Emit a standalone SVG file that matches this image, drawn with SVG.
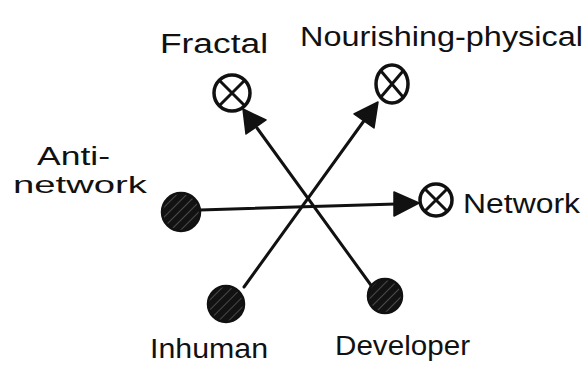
<svg xmlns="http://www.w3.org/2000/svg" width="584" height="366" viewBox="0 0 584 366">
<style>
.lbl{font-family:"Liberation Sans","DejaVu Sans",sans-serif;font-size:27px;fill:#111;}
.open{fill:#fff;stroke:#111;stroke-width:3.5;}
.cross{stroke:#111;stroke-width:3;fill:none;}
.solid{fill:url(#hatch);stroke:#111;stroke-width:2.5;}
.edge{stroke:#111;stroke-width:3;fill:none;stroke-linecap:round;}
.head{fill:#111;stroke:#111;stroke-width:1.5;stroke-linejoin:round;}
</style>
<defs>
<pattern id="hatch" patternUnits="userSpaceOnUse" width="7" height="7" patternTransform="rotate(-45)">
<rect width="7" height="7" fill="#121212"/>
<line x1="0" y1="3.5" x2="7" y2="3.5" stroke="#4a4a4a" stroke-width="1"/>
</pattern>
</defs>
<rect width="584" height="366" fill="#fff"/>
<g id="connectors">
<line class="edge" x1="200" y1="210" x2="396" y2="204"/>
<path class="head" d="M394,192 L419,203 L394,216 Z"/>
<line class="edge" x1="244" y1="287" x2="366" y2="118"/>
<path class="head" d="M378,102 L374,128 L354,114 Z"/>
<line class="edge" x1="373" y1="288" x2="257" y2="128"/>
<path class="head" d="M243,109 L266,120 L246,134 Z"/>
</g>
<g id="fractal">
<circle class="open" cx="232" cy="93" r="18"/>
<path class="cross" d="M220,81 L244,105 M244,81 L220,105"/>
<text class="lbl" x="160" y="53" textLength="108" lengthAdjust="spacingAndGlyphs">Fractal</text>
</g>
<g id="nourishing">
<ellipse class="open" cx="392" cy="84" rx="16" ry="19"/>
<path class="cross" d="M381,71 L403,97 M403,71 L381,97"/>
<text class="lbl" x="300" y="46" textLength="283" lengthAdjust="spacingAndGlyphs">Nourishing-physical</text>
</g>
<g id="network">
<circle class="open" cx="436" cy="200" r="16"/>
<path class="cross" d="M425,189 L447,211 M447,189 L425,211"/>
<text class="lbl" x="463" y="213" textLength="117" lengthAdjust="spacingAndGlyphs">Network</text>
</g>
<g id="antinetwork">
<circle class="solid" cx="181" cy="212" r="19"/>
<text class="lbl" x="37" y="165" style="font-size:25px" textLength="73" lengthAdjust="spacingAndGlyphs">Anti-</text>
<text class="lbl" x="13" y="193" style="font-size:24px" textLength="134" lengthAdjust="spacingAndGlyphs">network</text>
</g>
<g id="inhuman">
<circle class="solid" cx="226" cy="304" r="18"/>
<text class="lbl" x="150" y="358" textLength="118" lengthAdjust="spacingAndGlyphs">Inhuman</text>
</g>
<g id="developer">
<circle class="solid" cx="385" cy="296" r="17"/>
<text class="lbl" x="335" y="355" textLength="135" lengthAdjust="spacingAndGlyphs">Developer</text>
</g>
</svg>
